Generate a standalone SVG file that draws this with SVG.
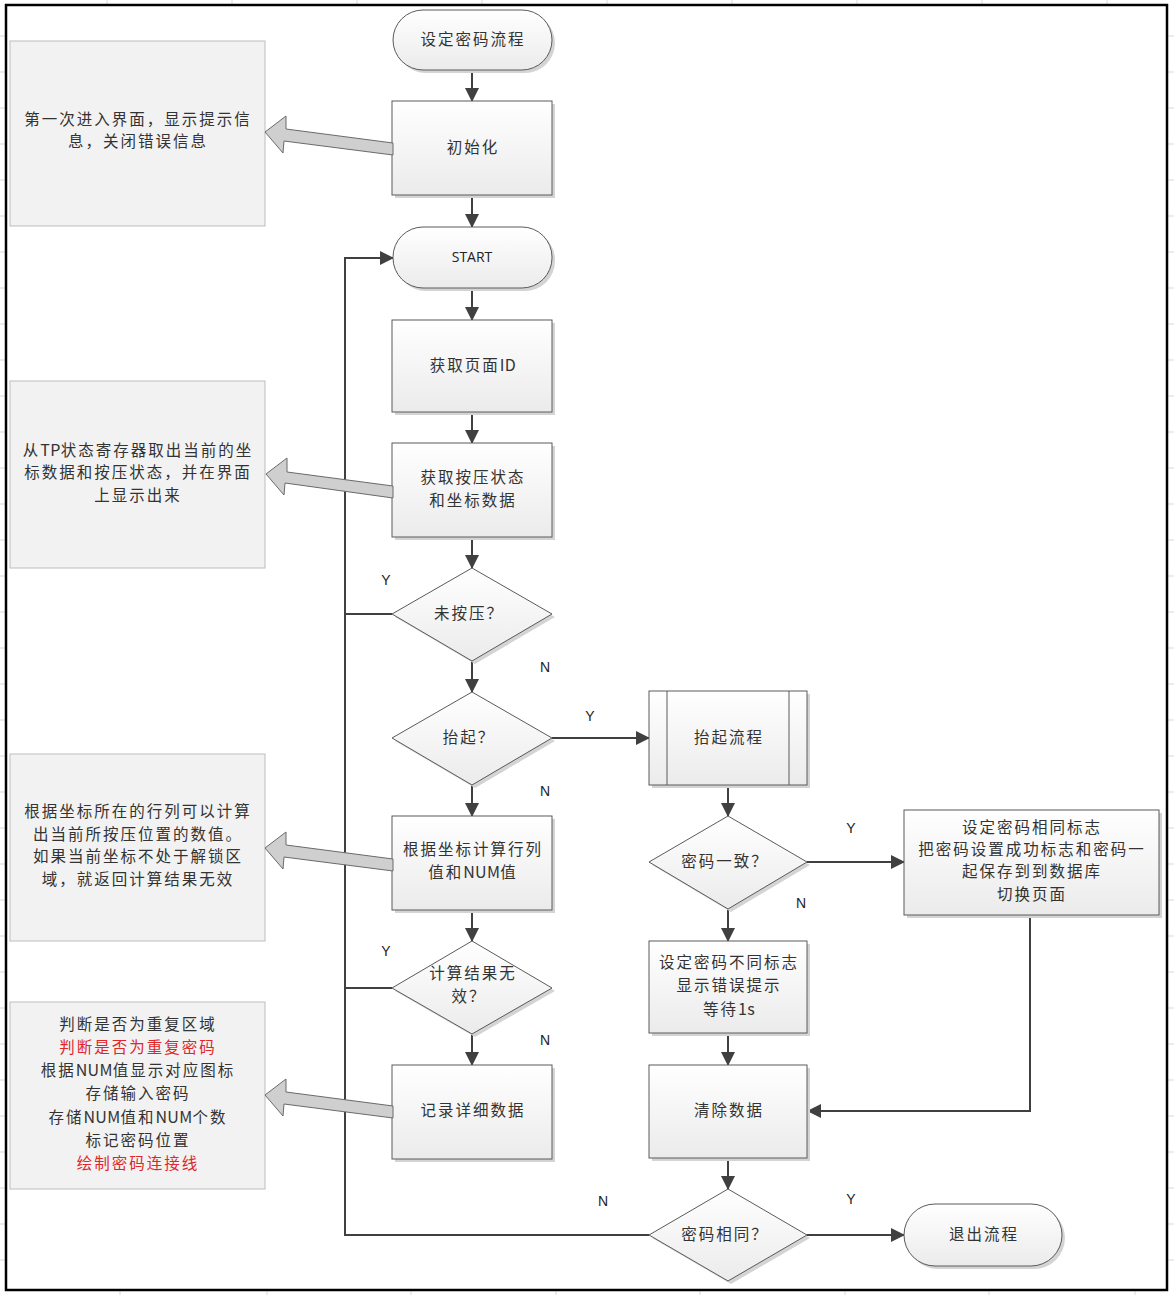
<svg xmlns="http://www.w3.org/2000/svg" width="1174" height="1295" viewBox="0 0 1174 1295">
<defs>
<linearGradient id="gBox" x1="0" y1="0" x2="0" y2="1">
<stop offset="0" stop-color="#ffffff"/>
<stop offset="1" stop-color="#ebebeb"/>
</linearGradient>
<marker id="ah" markerUnits="userSpaceOnUse" markerWidth="14" markerHeight="14" viewBox="0 0 14 14" refX="13" refY="7" orient="auto">
<path d="M0,0 L14,7 L0,14 Z" fill="#404040"/>
</marker>
<style>
.grid{stroke:#d9d9d9;stroke-width:1}
.node{fill:url(#gBox);stroke:#5a5a5a;stroke-width:1}
.shadow{fill:#d4d4d4}
.note{fill:#f2f2f2;stroke:#bdbdbd;stroke-width:1}
.barrow{fill:#cfcfcf;stroke:#6a6a6a;stroke-width:1;stroke-linejoin:miter}
.t{font-family:"Noto Sans CJK SC","Noto Sans",sans-serif;font-size:15.5px;letter-spacing:2px;fill:#333333;text-anchor:middle;dominant-baseline:central}
.l{letter-spacing:0.3px;font-size:16px}
.s{font-family:"Liberation Sans",Arial,sans-serif;font-size:14px;fill:#222222;text-anchor:middle;dominant-baseline:central}
.red{fill:#e0262b}
.c{fill:none;stroke:#404040;stroke-width:2}
.ca{fill:none;stroke:#404040;stroke-width:2;marker-end:url(#ah)}
</style>
</defs>
<rect x="0" y="0" width="1174" height="1295" fill="#ffffff"/>
<g id="grid">
<line class="grid" x1="107" y1="0" x2="107" y2="5"/><line class="grid" x1="232" y1="0" x2="232" y2="5"/><line class="grid" x1="357" y1="0" x2="357" y2="5"/><line class="grid" x1="482" y1="0" x2="482" y2="5"/><line class="grid" x1="607" y1="0" x2="607" y2="5"/><line class="grid" x1="732" y1="0" x2="732" y2="5"/><line class="grid" x1="857" y1="0" x2="857" y2="5"/><line class="grid" x1="982" y1="0" x2="982" y2="5"/><line class="grid" x1="1107" y1="0" x2="1107" y2="5"/>
<line class="grid" x1="120" y1="1290" x2="120" y2="1295"/><line class="grid" x1="267" y1="1290" x2="267" y2="1295"/><line class="grid" x1="411" y1="1290" x2="411" y2="1295"/><line class="grid" x1="556" y1="1290" x2="556" y2="1295"/><line class="grid" x1="700" y1="1290" x2="700" y2="1295"/><line class="grid" x1="845" y1="1290" x2="845" y2="1295"/><line class="grid" x1="989" y1="1290" x2="989" y2="1295"/><line class="grid" x1="1135" y1="1290" x2="1135" y2="1295"/>
<path class="grid" d="M0,36H6M0,72H6M0,108H6M0,144H6M0,180H6M0,216H6M0,252H6M0,288H6M0,324H6M0,360H6M0,396H6M0,432H6M0,468H6M0,504H6M0,540H6M0,576H6M0,612H6M0,648H6M0,684H6M0,720H6M0,756H6M0,792H6M0,828H6M0,864H6M0,900H6M0,936H6M0,972H6M0,1008H6M0,1044H6M0,1080H6M0,1116H6M0,1152H6M0,1188H6M0,1224H6M0,1260H6"/>
<path class="grid" d="M1168,36H1174M1168,72H1174M1168,108H1174M1168,144H1174M1168,180H1174M1168,216H1174M1168,252H1174M1168,288H1174M1168,324H1174M1168,360H1174M1168,396H1174M1168,432H1174M1168,468H1174M1168,504H1174M1168,540H1174M1168,576H1174M1168,612H1174M1168,648H1174M1168,684H1174M1168,720H1174M1168,756H1174M1168,792H1174M1168,828H1174M1168,864H1174M1168,900H1174M1168,936H1174M1168,972H1174M1168,1008H1174M1168,1044H1174M1168,1080H1174M1168,1116H1174M1168,1152H1174M1168,1188H1174M1168,1224H1174M1168,1260H1174"/>
</g>
<rect x="6" y="5" width="1161" height="1285" fill="#ffffff" stroke="#000000" stroke-width="2.5"/>

<g id="connectors">
<line class="ca" x1="472" y1="70" x2="472" y2="101"/>
<line class="ca" x1="472" y1="195" x2="472" y2="227"/>
<line class="ca" x1="472" y1="288" x2="472" y2="320"/>
<line class="ca" x1="472" y1="412" x2="472" y2="443"/>
<line class="ca" x1="472" y1="537" x2="472" y2="568"/>
<line class="ca" x1="472" y1="661" x2="472" y2="692"/>
<line class="ca" x1="472" y1="785" x2="472" y2="816"/>
<line class="ca" x1="472" y1="910" x2="472" y2="941"/>
<line class="ca" x1="472" y1="1034" x2="472" y2="1065"/>
<line class="c" x1="392" y1="614" x2="345" y2="614"/>
<line class="c" x1="392" y1="988" x2="345" y2="988"/>
<polyline class="ca" points="649,1235 345,1235 345,258 393,258"/>
<line class="ca" x1="552" y1="738" x2="649" y2="738"/>
<line class="ca" x1="728" y1="785" x2="728" y2="816"/>
<line class="ca" x1="807" y1="862" x2="904" y2="862"/>
<line class="ca" x1="728" y1="909" x2="728" y2="941"/>
<line class="ca" x1="728" y1="1033" x2="728" y2="1065"/>
<polyline class="ca" points="1030,915 1030,1111 808,1111"/>
<line class="ca" x1="728" y1="1158" x2="728" y2="1189"/>
<line class="ca" x1="807" y1="1235" x2="904" y2="1235"/>
<text class="s" x="386" y="580">Y</text>
<text class="s" x="545" y="667">N</text>
<text class="s" x="590" y="716">Y</text>
<text class="s" x="545" y="791">N</text>
<text class="s" x="386" y="951">Y</text>
<text class="s" x="545" y="1040">N</text>
<text class="s" x="851" y="828">Y</text>
<text class="s" x="801" y="903">N</text>
<text class="s" x="603" y="1201">N</text>
<text class="s" x="851" y="1199">Y</text>
</g>

<g id="n-begin">
<rect class="shadow" x="396" y="13" width="159" height="60" rx="30"/>
<rect class="node" x="393" y="10" width="159" height="60" rx="30"/>
<text class="t" x="473" y="38">设定密码流程</text>
</g>
<g id="n-init">
<rect class="shadow" x="395" y="104" width="160" height="94"/>
<rect class="node" x="392" y="101" width="160" height="94"/>
<text class="t" x="473" y="146">初始化</text>
</g>
<g id="n-start">
<rect class="shadow" x="396" y="230" width="159" height="61" rx="30"/>
<rect class="node" x="393" y="227" width="159" height="61" rx="30"/>
<text class="s" x="472" y="256" style="font-family:'Open Sans','Liberation Sans',sans-serif">START</text>
</g>
<g id="n-pageid">
<rect class="shadow" x="395" y="323" width="160" height="92"/>
<rect class="node" x="392" y="320" width="160" height="92"/>
<text class="t" x="473" y="364">获取页面<tspan class="l">ID</tspan></text>
</g>
<g id="n-getpress">
<rect class="shadow" x="395" y="446" width="160" height="94"/>
<rect class="node" x="392" y="443" width="160" height="94"/>
<text class="t" x="473" y="476">获取按压状态</text>
<text class="t" x="473" y="499">和坐标数据</text>
</g>
<g id="n-notpressed">
<polygon class="shadow" points="475,571 555,617 475,664 395,617"/>
<polygon class="node" points="472,568 552,614 472,661 392,614"/>
<text class="t" x="469" y="612">未按压？</text>
</g>
<g id="n-lift">
<polygon class="shadow" points="475,695 555,741 475,788 395,741"/>
<polygon class="node" points="472,692 552,738 472,785 392,738"/>
<text class="t" x="469" y="736">抬起？</text>
</g>
<g id="n-calc">
<rect class="shadow" x="395" y="819" width="160" height="94"/>
<rect class="node" x="392" y="816" width="160" height="94"/>
<text class="t" x="473" y="848">根据坐标计算行列</text>
<text class="t" x="473" y="871">值和<tspan class="l">NUM</tspan>值</text>
</g>
<g id="n-invalid">
<polygon class="shadow" points="475,944 555,991 475,1037 395,991"/>
<polygon class="node" points="472,941 552,988 472,1034 392,988"/>
<text class="t" x="473" y="972">计算结果无</text>
<text class="t" x="469" y="995">效？</text>
</g>
<g id="n-record">
<rect class="shadow" x="395" y="1068" width="160" height="94"/>
<rect class="node" x="392" y="1065" width="160" height="94"/>
<text class="t" x="473" y="1109">记录详细数据</text>
</g>
<g id="n-liftproc">
<rect class="shadow" x="652" y="694" width="158" height="94"/>
<rect class="node" x="649" y="691" width="158" height="94"/>
<line x1="667" y1="691" x2="667" y2="785" stroke="#5a5a5a" stroke-width="1"/>
<line x1="789" y1="691" x2="789" y2="785" stroke="#5a5a5a" stroke-width="1"/>
<text class="t" x="729" y="736">抬起流程</text>
</g>
<g id="n-match">
<polygon class="shadow" points="731,819 810,865 731,912 652,865"/>
<polygon class="node" points="728,816 807,862 728,909 649,862"/>
<text class="t" x="725" y="860">密码一致？</text>
</g>
<g id="n-diff">
<rect class="shadow" x="652" y="944" width="158" height="92"/>
<rect class="node" x="649" y="941" width="158" height="92"/>
<text class="t" x="729" y="961">设定密码不同标志</text>
<text class="t" x="729" y="984">显示错误提示</text>
<text class="t" x="729" y="1008">等待<tspan class="l">1s</tspan></text>
</g>
<g id="n-clear">
<rect class="shadow" x="652" y="1068" width="158" height="93"/>
<rect class="node" x="649" y="1065" width="158" height="93"/>
<text class="t" x="729" y="1109">清除数据</text>
</g>
<g id="n-same">
<polygon class="shadow" points="731,1192 810,1238 731,1284 652,1238"/>
<polygon class="node" points="728,1189 807,1235 728,1281 649,1235"/>
<text class="t" x="725" y="1233">密码相同？</text>
</g>
<g id="n-save">
<rect class="shadow" x="907" y="813" width="255" height="105"/>
<rect class="node" x="904" y="810" width="255" height="105"/>
<text class="t" x="1032" y="826">设定密码相同标志</text>
<text class="t" x="1032" y="848">把密码设置成功标志和密码一</text>
<text class="t" x="1032" y="870">起保存到到数据库</text>
<text class="t" x="1032" y="893">切换页面</text>
</g>
<g id="n-exit">
<rect class="shadow" x="907" y="1207" width="158" height="62" rx="31"/>
<rect class="node" x="904" y="1204" width="158" height="62" rx="31"/>
<text class="t" x="984" y="1233">退出流程</text>
</g>

<g id="note1">
<rect class="note" x="10" y="41" width="255" height="185"/>
<text class="t" x="138" y="118">第一次进入界面，显示提示信</text>
<text class="t" x="138" y="140">息，关闭错误信息</text>
</g>
<polygon id="arrow1" class="barrow" points="393,143 286,129 286,116 265,132 283,153 284,141 393,155"/>
<g id="note2">
<rect class="note" x="10" y="381" width="255" height="187"/>
<text class="t" x="138" y="449">从<tspan class="l">TP</tspan>状态寄存器取出当前的坐</text>
<text class="t" x="138" y="471">标数据和按压状态，并在界面</text>
<text class="t" x="138" y="494">上显示出来</text>
</g>
<polygon id="arrow2" class="barrow" points="393,486 287,472 287,458 266,474 284,495 285,483 393,498"/>
<g id="note3">
<rect class="note" x="10" y="754" width="255" height="187"/>
<text class="t" x="138" y="810">根据坐标所在的行列可以计算</text>
<text class="t" x="138" y="833">出当前所按压位置的数值。</text>
<text class="t" x="138" y="855">如果当前坐标不处于解锁区</text>
<text class="t" x="138" y="878">域，就返回计算结果无效</text>
</g>
<polygon id="arrow3" class="barrow" points="393,859 286,845 286,832 265,848 283,869 284,857 393,871"/>
<g id="note4">
<rect class="note" x="10" y="1002" width="255" height="187"/>
<text class="t" x="138" y="1023">判断是否为重复区域</text>
<text class="t red" x="138" y="1046">判断是否为重复密码</text>
<text class="t" x="138" y="1069">根据<tspan class="l">NUM</tspan>值显示对应图标</text>
<text class="t" x="138" y="1092">存储输入密码</text>
<text class="t" x="138" y="1116">存储<tspan class="l">NUM</tspan>值和<tspan class="l">NUM</tspan>个数</text>
<text class="t" x="138" y="1139">标记密码位置</text>
<text class="t red" x="138" y="1162">绘制密码连接线</text>
</g>
<polygon id="arrow4" class="barrow" points="393,1106 286,1092 286,1079 265,1095 283,1116 284,1104 393,1118"/>
</svg>
